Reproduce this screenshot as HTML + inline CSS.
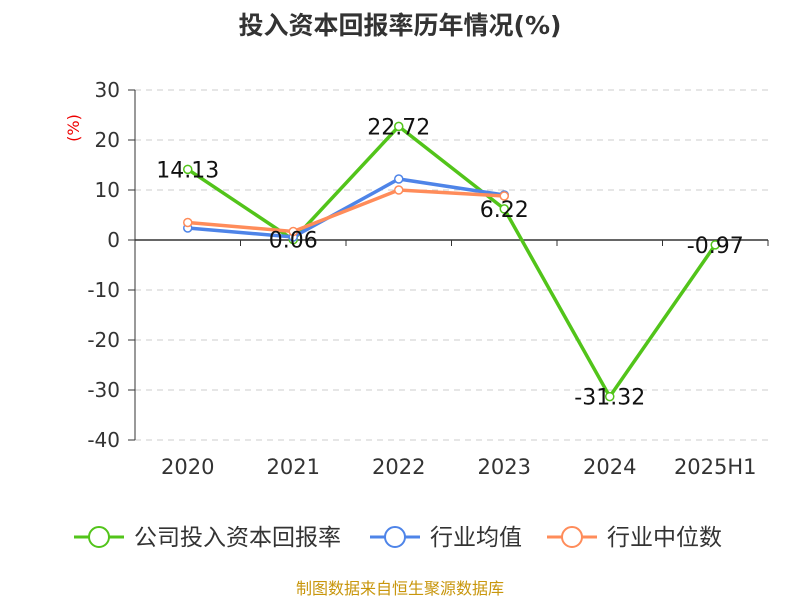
<!DOCTYPE html>
<html><head><meta charset="utf-8"><style>
body{margin:0;background:#fff;font-family:"DejaVu Sans","Noto Sans CJK SC",sans-serif}
</style></head><body>
<svg width="800" height="600" id="c" xmlns="http://www.w3.org/2000/svg" font-family="DejaVu Sans, Noto Sans CJK SC, sans-serif">
<text x="400" y="34" text-anchor="middle" font-size="25" font-weight="bold" fill="#333">投入资本回报率历年情况(%)</text>
<text x="79" y="128" font-size="16" fill="#e00" transform="rotate(-90 79 128)" text-anchor="middle">(%)</text>
<g id="grid"></g><g id="axes"></g><g id="series"></g>
<g font-size="23" fill="#333">
<g><line x1="74" y1="537" x2="124" y2="537" stroke="#52c41a" stroke-width="3"/><circle cx="99" cy="537" r="10" fill="#fff" stroke="#52c41a" stroke-width="2"/><text x="134" y="545" fill="#333">公司投入资本回报率</text></g>
<g><line x1="370" y1="537" x2="420" y2="537" stroke="#4e84e8" stroke-width="3"/><circle cx="395" cy="537" r="10" fill="#fff" stroke="#4e84e8" stroke-width="2"/><text x="430" y="545" fill="#333">行业均值</text></g>
<g><line x1="547" y1="537" x2="597" y2="537" stroke="#ff8c5a" stroke-width="3"/><circle cx="572" cy="537" r="10" fill="#fff" stroke="#ff8c5a" stroke-width="2"/><text x="607" y="545" fill="#333">行业中位数</text></g>
</g>
<text x="400" y="594" text-anchor="middle" font-size="16" fill="#c8960c">制图数据来自恒生聚源数据库</text>
</svg>
<script>
const categories=["2020","2021","2022","2023","2024","2025H1"];
const company=[14.13,0.06,22.72,6.22,-31.32,-0.97];
const industryAvg=[2.4,0.6,12.2,9.0];
const industryMedian=[3.5,1.7,10.0,8.8];
const yTicks=[30,20,10,0,-10,-20,-30,-40];
const NS="http://www.w3.org/2000/svg";
const x0=135,x1=768,band=(x1-x0)/categories.length;
const X=i=>x0+band*(i+0.5);
const Y=v=>240-v*5;
function mk(p,t,a){const e=document.createElementNS(NS,t);for(const k in a)e.setAttribute(k,a[k]);document.getElementById(p).appendChild(e);return e;}
yTicks.forEach(v=>{
 if(v!==0){const l=mk('grid','line',{x1:x0,x2:x1,y1:Y(v),y2:Y(v),stroke:'#ccc','stroke-dasharray':'6,5'});
 
 }
 const t=mk('axes','text',{x:120,y:Y(v)+7,'text-anchor':'end','font-size':20,fill:'#333'});t.textContent=v;
 
 
 mk('axes','line',{x1:128,x2:x0,y1:Y(v),y2:Y(v),stroke:'#333'});
});
const ya=mk('axes','line',{x1:x0,x2:x0,y1:Y(30),y2:Y(-40),stroke:'#333'});


const xa=mk('axes','line',{x1:x0,x2:x1,y1:Y(0),y2:Y(0),stroke:'#333','stroke-width':1.5});


for(let i=0;i<=categories.length;i++)mk('axes','line',{x1:x0+band*i,x2:x0+band*i,y1:Y(0),y2:Y(0)+6,stroke:'#333'});
categories.forEach((c,i)=>{const t=mk('axes','text',{x:X(i),y:474,'text-anchor':'middle','font-size':21,fill:'#333'});t.textContent=c;
 
 });
function series(d,col,name){
 const pl=mk('series','polyline',{points:d.map((v,i)=>X(i)+','+Y(v)).join(' '),fill:'none',stroke:col,'stroke-width':3.5});
 
 
 d.forEach((v,i)=>{const c=mk('series','circle',{cx:X(i),cy:Y(v),r:4,fill:'#fff',stroke:col,'stroke-width':1.5});
 
 });
}
series(company,'#52c41a','company');
series(industryAvg,'#4e84e8','industry-avg');
series(industryMedian,'#ff8c5a','industry-median');
company.forEach((v,i)=>{const t=mk('series','text',{x:X(i),y:Y(v)+8,'text-anchor':'middle','font-size':22,fill:'#111'});t.textContent=v.toFixed(2);
 
 });
</script>
</body></html>
